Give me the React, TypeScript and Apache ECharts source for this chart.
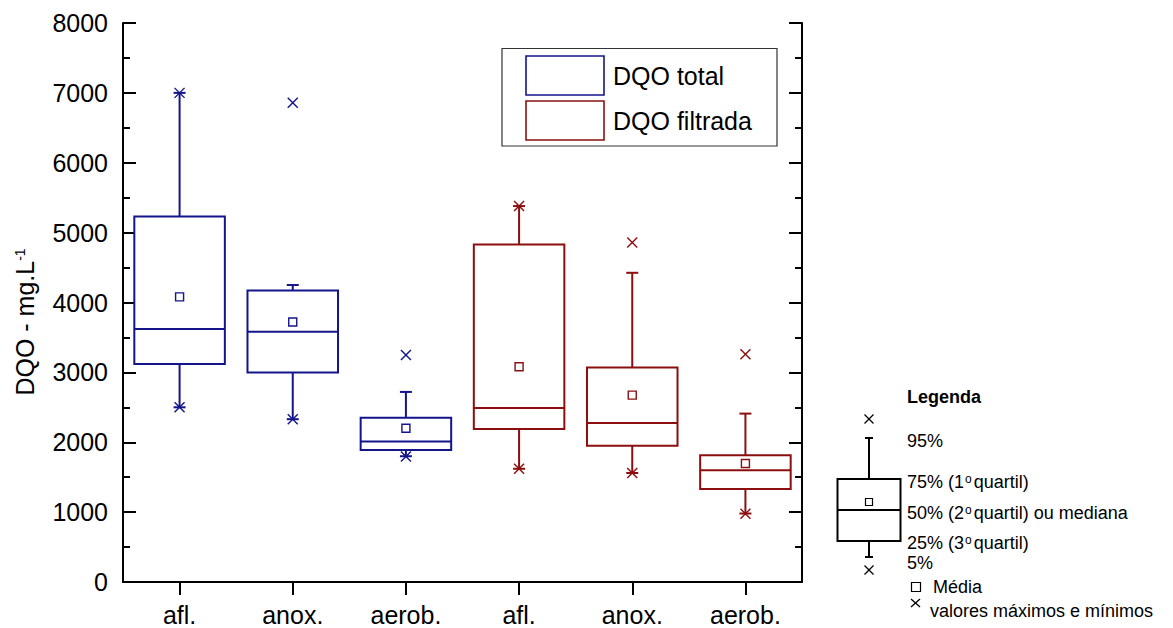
import React, { useEffect, useRef } from 'react';
import * as echarts from 'echarts';

const categories = ['afl.', 'anox.', 'aerob.', 'afl.', 'anox.', 'aerob.'];

// DQO total (categories 0-2)
const totalIdx = [0, 1, 2];
const totalP5 = [2500, 2330, 1800];
const totalQ1 = [3120, 3000, 1890];
const totalMedian = [3620, 3580, 2010];
const totalQ3 = [5230, 4170, 2350];
const totalP95 = [7000, 4250, 2720];
const totalMean = [4080, 3720, 2200];
const totalMin = [2500, 2330, 1795];
const totalMax = [7000, 6860, 3250];

// DQO filtrada (categories 3-5)
const filtIdx = [3, 4, 5];
const filtP5 = [1620, 1560, 980];
const filtQ1 = [2190, 1950, 1330];
const filtMedian = [2490, 2275, 1600];
const filtQ3 = [4830, 3070, 1815];
const filtP95 = [5380, 4425, 2410];
const filtMean = [3080, 2675, 1695];
const filtMin = [1620, 1560, 978];
const filtMax = [5380, 4860, 3260];

const BLUE = '#14148c';
const RED = '#8c0f0f';
const FONT = 'Liberation Sans, Arial, Helvetica, sans-serif';

function build(idx: number[], p5: number[], q1: number[], med: number[], q3: number[], p95: number[], mean: number[], mn: number[], mx: number[]) {
  return idx.map((x, i) => [x, p5[i], q1[i], med[i], q3[i], p95[i], mean[i], mn[i], mx[i]]);
}

function makeRender(color: string) {
  return (params: any, api: any) => {
    const xv = api.value(0);
    const cx = api.coord([xv, 0])[0];
    const y = (k: number) => api.coord([xv, api.value(k)])[1];
    const bw = api.size([1, 0])[0] * 0.8;
    const yP5 = y(1), yQ1 = y(2), yMed = y(3), yQ3 = y(4), yP95 = y(5), yMean = y(6), yMin = y(7), yMax = y(8);
    const ls = { stroke: color, lineWidth: 2, fill: 'none' };
    const thin = { stroke: color, lineWidth: 1.4, fill: 'none' };
    const cross = (yy: number) => [
      { type: 'line', shape: { x1: cx - 5, y1: yy - 5, x2: cx + 5, y2: yy + 5 }, style: thin },
      { type: 'line', shape: { x1: cx + 5, y1: yy - 5, x2: cx - 5, y2: yy + 5 }, style: thin },
    ];
    return {
      type: 'group',
      children: [
        { type: 'line', shape: { x1: cx, y1: yQ3, x2: cx, y2: yP95 }, style: ls },
        { type: 'line', shape: { x1: cx, y1: yQ1, x2: cx, y2: yP5 }, style: ls },
        { type: 'line', shape: { x1: cx - 6, y1: yP95, x2: cx + 6, y2: yP95 }, style: ls },
        { type: 'line', shape: { x1: cx - 6, y1: yP5, x2: cx + 6, y2: yP5 }, style: ls },
        { type: 'rect', shape: { x: cx - bw / 2, y: yQ3, width: bw, height: yQ1 - yQ3 }, style: { stroke: color, lineWidth: 2, fill: '#fff' } },
        { type: 'line', shape: { x1: cx - bw / 2, y1: yMed, x2: cx + bw / 2, y2: yMed }, style: ls },
        { type: 'rect', shape: { x: cx - 4, y: yMean - 4, width: 8, height: 8 }, style: { stroke: color, lineWidth: 1.4, fill: '#fff' } },
        ...cross(yMax),
        ...cross(yMin),
      ],
    };
  };
}

export default function App() {
  const ref = useRef<HTMLDivElement>(null);
  useEffect(() => {
    if (!ref.current) return;
    const chart = echarts.init(ref.current, undefined, { renderer: 'svg' });
    const axisLine = { show: true, lineStyle: { color: '#000', width: 2 } };
    const yCommon = {
      type: 'value',
      min: 0,
      max: 8000,
      interval: 1000,
      axisLine,
      axisTick: { show: true, inside: true, length: 13, lineStyle: { color: '#000', width: 2 } },
      minorTick: { show: true, splitNumber: 2, length: 7, lineStyle: { color: '#000', width: 2 } },
      splitLine: { show: false },
    };
    const sup = { fontSize: 12, verticalAlign: 'top', fontFamily: FONT, fill: '#000', color: '#000', padding: [0, 2, 4, 1] };
    const txt = (text: string, x: number, y: number, extra: any = {}) => ({
      type: 'text',
      x,
      y,
      z: 100,
      style: {
        text,
        fontSize: 18,
        fontFamily: FONT,
        fill: '#000',
        align: 'left',
        textAlign: 'left',
        verticalAlign: 'middle',
        textVerticalAlign: 'middle',
        rich: { sup },
        ...extra,
      },
    });
    const L = { stroke: '#000', lineWidth: 2, fill: 'none' };
    const T = { stroke: '#000', lineWidth: 1.3, fill: 'none' };
    chart.setOption({
      animation: false,
      backgroundColor: '#fff',
      grid: { left: 123, top: 23, width: 679, height: 559, containLabel: false },
      xAxis: [
        {
          type: 'category',
          data: categories,
          boundaryGap: true,
          position: 'bottom',
          axisLine,
          axisTick: { show: true, alignWithLabel: true, length: 13, lineStyle: { color: '#000', width: 2 } },
          axisLabel: { fontSize: 25, color: '#000', margin: 20, fontFamily: FONT },
        },
        {
          type: 'category',
          data: categories,
          boundaryGap: true,
          position: 'top',
          axisLine,
          axisTick: { show: true, inside: true, alignWithLabel: true, length: 3, lineStyle: { color: '#000', width: 1 } },
          axisLabel: { show: false },
        },
      ],
      yAxis: [
        {
          ...yCommon,
          position: 'left',
          axisLabel: { fontSize: 25, color: '#000', margin: 15, fontFamily: FONT, formatter: (v: number) => String(v) },
        },
        { ...yCommon, position: 'right', axisLabel: { show: false } },
      ],
      series: [
        {
          name: 'DQO total',
          type: 'custom',
          renderItem: makeRender(BLUE),
          encode: { x: 0, y: [1, 2, 3, 4, 5, 6, 7, 8] },
          data: build(totalIdx, totalP5, totalQ1, totalMedian, totalQ3, totalP95, totalMean, totalMin, totalMax),
          clip: false,
        },
        {
          name: 'DQO filtrada',
          type: 'custom',
          renderItem: makeRender(RED),
          encode: { x: 0, y: [1, 2, 3, 4, 5, 6, 7, 8] },
          data: build(filtIdx, filtP5, filtQ1, filtMedian, filtQ3, filtP95, filtMean, filtMin, filtMax),
          clip: false,
        },
      ],
      graphic: [
        // y axis title
        {
          type: 'text',
          x: 25,
          y: 322,
          rotation: Math.PI / 2,
          style: {
            text: 'DQO - mg.L{sup|-1}',
            fontSize: 25,
            fontFamily: FONT,
            fill: '#000',
            align: 'center',
            textAlign: 'center',
            verticalAlign: 'middle',
            textVerticalAlign: 'middle',
            rich: { sup: { fontSize: 14, verticalAlign: 'top', fontFamily: FONT, fill: '#000', color: '#000' } },
          },
        },
        // series legend
        { type: 'rect', z: 90, shape: { x: 502, y: 48.5, width: 275, height: 97.5 }, style: { fill: '#fff', stroke: '#333', lineWidth: 1.2 } },
        { type: 'rect', z: 95, shape: { x: 526, y: 56, width: 78, height: 39 }, style: { fill: 'none', stroke: BLUE, lineWidth: 1.6 } },
        { type: 'rect', z: 95, shape: { x: 526, y: 101, width: 78, height: 39 }, style: { fill: 'none', stroke: RED, lineWidth: 1.6 } },
        txt('DQO total', 613, 76, { fontSize: 25 }),
        txt('DQO filtrada', 613, 121, { fontSize: 25 }),
        // explanatory legend
        txt('Legenda', 907, 397, { fontWeight: 'bold', fontSize: 18 }),
        { type: 'line', shape: { x1: 869, y1: 479, x2: 869, y2: 438 }, style: L },
        { type: 'line', shape: { x1: 865, y1: 438, x2: 873, y2: 438 }, style: L },
        { type: 'line', shape: { x1: 869, y1: 541, x2: 869, y2: 557 }, style: L },
        { type: 'line', shape: { x1: 865, y1: 557, x2: 873, y2: 557 }, style: L },
        { type: 'rect', shape: { x: 837.5, y: 479, width: 63, height: 62 }, style: { fill: '#fff', stroke: '#000', lineWidth: 2 } },
        { type: 'line', shape: { x1: 837.5, y1: 510, x2: 900.5, y2: 510 }, style: L },
        { type: 'rect', shape: { x: 865.5, y: 498.5, width: 7, height: 7 }, style: { fill: '#fff', stroke: '#000', lineWidth: 1.2 } },
        { type: 'line', shape: { x1: 864.5, y1: 414.5, x2: 873.5, y2: 423.5 }, style: T },
        { type: 'line', shape: { x1: 873.5, y1: 414.5, x2: 864.5, y2: 423.5 }, style: T },
        { type: 'line', shape: { x1: 864.5, y1: 565.5, x2: 873.5, y2: 574.5 }, style: T },
        { type: 'line', shape: { x1: 873.5, y1: 565.5, x2: 864.5, y2: 574.5 }, style: T },
        txt('95%', 907, 441),
        txt('75% (1{sup|o}quartil)', 907, 482),
        txt('50% (2{sup|o}quartil) ou mediana', 907, 513),
        txt('25% (3{sup|o}quartil)', 907, 543),
        txt('5%', 907, 563),
        { type: 'rect', shape: { x: 911.5, y: 582.5, width: 9, height: 9 }, style: { fill: '#fff', stroke: '#000', lineWidth: 1.2 } },
        txt('Média', 933, 587),
        { type: 'line', shape: { x1: 911, y1: 599, x2: 920, y2: 607 }, style: T },
        { type: 'line', shape: { x1: 920, y1: 599, x2: 911, y2: 607 }, style: T },
        txt('valores máximos e mínimos', 930, 611),
      ],
    });
    return () => chart.dispose();
  }, []);
  return (
    <div
      ref={ref}
      style={{ position: 'fixed', left: 0, top: 0, width: 1173, height: 628, background: '#fff' }}
    />
  );
}
